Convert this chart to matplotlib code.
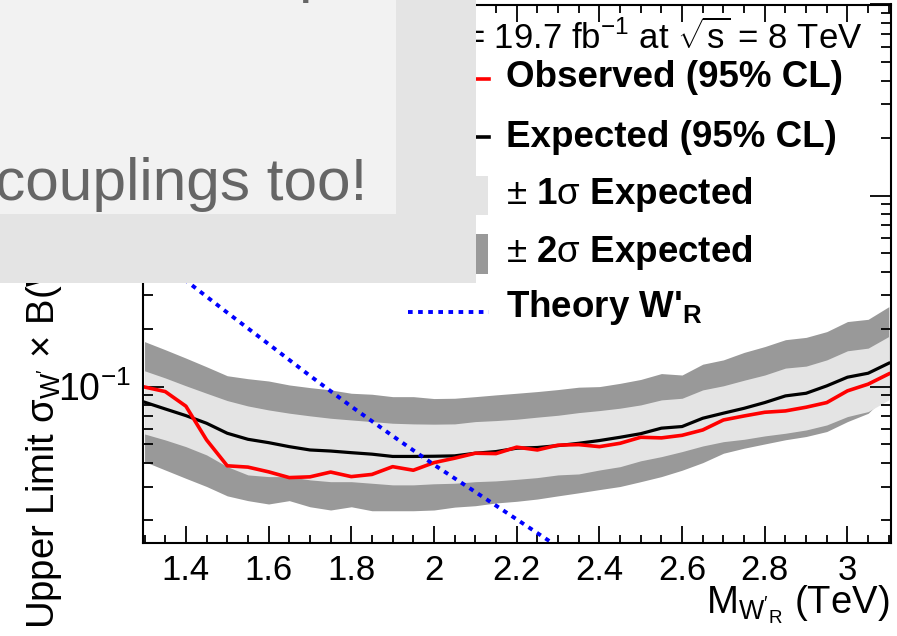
import numpy as np
import matplotlib
matplotlib.use("Agg")
from matplotlib import pyplot as plt
from matplotlib.lines import Line2D
from matplotlib.patches import Rectangle
from matplotlib.ticker import MultipleLocator, LogLocator, NullFormatter, FuncFormatter

plt.rcParams['font.family'] = ['Liberation Sans', 'DejaVu Sans']
plt.rcParams['mathtext.fontset'] = 'custom'
plt.rcParams['mathtext.rm'] = 'Liberation Sans'
plt.rcParams['mathtext.it'] = 'Liberation Sans:italic'
plt.rcParams['mathtext.bf'] = 'Liberation Sans:bold'

# W'_R mass points (TeV)
masses = [1.30, 1.35, 1.40, 1.45, 1.50, 1.55, 1.60, 1.65, 1.70, 1.75,
          1.80, 1.85, 1.90, 1.95, 2.00, 2.05, 2.10, 2.15, 2.20, 2.25,
          2.30, 2.35, 2.40, 2.45, 2.50, 2.55, 2.60, 2.65, 2.70, 2.75,
          2.80, 2.85, 2.90, 2.95, 3.00, 3.05, 3.10]

# 95% CL limits (pb)
observed = [0.0995, 0.0942, 0.0790, 0.0526, 0.0385, 0.0379, 0.0358, 0.0334, 0.0337, 0.0357,
            0.0338, 0.0347, 0.0381, 0.0365, 0.0400, 0.0422, 0.0448, 0.0446, 0.0482, 0.0466,
            0.0494, 0.0497, 0.0485, 0.0505, 0.0543, 0.0539, 0.0556, 0.0593, 0.0669, 0.0702,
            0.0734, 0.0746, 0.0780, 0.0825, 0.0950, 0.1030, 0.1166]
expected = [0.0829, 0.0764, 0.0705, 0.0643, 0.0570, 0.0530, 0.0509, 0.0485, 0.0466, 0.0460,
            0.0451, 0.0443, 0.0431, 0.0431, 0.0432, 0.0434, 0.0448, 0.0457, 0.0476, 0.0480,
            0.0491, 0.0505, 0.0522, 0.0543, 0.0567, 0.0606, 0.0618, 0.0683, 0.0726, 0.0770,
            0.0825, 0.0894, 0.0923, 0.1009, 0.1120, 0.1175, 0.1326]
exp_2s_up = [0.172, 0.156, 0.141, 0.127, 0.114, 0.110, 0.107, 0.102, 0.0988, 0.0961,
             0.0923, 0.0912, 0.0886, 0.0886, 0.0866, 0.0869, 0.0886, 0.0905, 0.0923, 0.0942,
             0.0965, 0.0993, 0.100, 0.104, 0.109, 0.117, 0.115, 0.131, 0.138, 0.151,
             0.162, 0.176, 0.181, 0.194, 0.219, 0.225, 0.262]
exp_1s_up = [0.121, 0.111, 0.101, 0.0923, 0.0845, 0.0792, 0.0755, 0.0726, 0.0703, 0.0683,
             0.0669, 0.0656, 0.0643, 0.0638, 0.0636, 0.0638, 0.0656, 0.0664, 0.0675, 0.0692,
             0.0708, 0.0731, 0.0749, 0.0771, 0.0802, 0.0852, 0.0869, 0.0961, 0.101, 0.108,
             0.115, 0.125, 0.128, 0.138, 0.154, 0.159, 0.183]
exp_1s_dn = [0.0565, 0.0526, 0.0485, 0.0439, 0.0381, 0.0345, 0.0338, 0.0338, 0.0325, 0.0318,
             0.0318, 0.0312, 0.0306, 0.0306, 0.0310, 0.0312, 0.0318, 0.0321, 0.0327, 0.0334,
             0.0345, 0.0349, 0.0366, 0.0381, 0.0409, 0.0430, 0.0457, 0.0489, 0.0515, 0.0530,
             0.0552, 0.0570, 0.0593, 0.0630, 0.0697, 0.0740, 0.0852]
exp_2s_dn = [0.0405, 0.0366, 0.0331, 0.0300, 0.0268, 0.0253, 0.0243, 0.0253, 0.0235, 0.0226,
             0.0235, 0.0224, 0.0224, 0.0224, 0.0226, 0.0234, 0.0238, 0.0246, 0.0251, 0.0258,
             0.0268, 0.0278, 0.0289, 0.0300, 0.0318, 0.0338, 0.0365, 0.0400, 0.0448, 0.0476,
             0.0501, 0.0527, 0.0548, 0.0582, 0.0656, 0.0725, 0.0923]

# theory cross section for W'_R
theory_mass = [1.3, 1.4, 1.5, 1.6, 1.7, 1.8, 1.9, 2.0, 2.1, 2.2, 2.3, 2.4]
theory_xsec = [0.534, 0.359, 0.244, 0.167, 0.114, 0.0787, 0.0552, 0.0390, 0.0281, 0.0202, 0.0145, 0.0105]

W, H = 897, 636
fig = plt.figure(figsize=(W / 100, H / 100), dpi=100)


def fx(px):
    return px / W


def fy(py):
    return 1 - py / H


ax = fig.add_axes([fx(143.3), fy(543.3), fx(891.3) - fx(143.3), fy(4.5) - fy(543.3)])

ax.fill_between(masses, exp_2s_dn, exp_2s_up, color='#999999', lw=0)
ax.fill_between(masses, exp_1s_dn, exp_1s_up, color='#e4e4e4', lw=0)
ax.plot(masses, expected, color='black', lw=2.3)
ax.plot(masses, observed, color='#ff0000', lw=2.6)
ax.plot(theory_mass, theory_xsec, color='#0000ff', lw=2.8, linestyle=(0, (1.2, 1.4)))

ax.set_yscale('log')
ax.set_xlim(1.297, 3.106)
ax.set_ylim(0.01513, 10)

ax.xaxis.set_major_locator(MultipleLocator(0.2))
ax.xaxis.set_minor_locator(MultipleLocator(0.05))
ax.xaxis.set_major_formatter(FuncFormatter(lambda v, p: '%g' % round(v, 2)))
ax.yaxis.set_major_locator(LogLocator(base=10, numticks=10))
ax.yaxis.set_minor_locator(LogLocator(base=10, subs=np.arange(2, 10) * 1.0, numticks=20))
ax.yaxis.set_minor_formatter(NullFormatter())

ax.tick_params(which='both', direction='in', top=True, right=True, width=1.3, color='black')
ax.tick_params(axis='x', which='major', length=12, labelsize=25, pad=8)
ax.tick_params(axis='x', which='minor', length=6)
ax.tick_params(axis='y', which='major', length=15, labelsize=27, pad=9)
ax.tick_params(axis='y', which='minor', length=7.5)
for s in ax.spines.values():
    s.set_linewidth(1.5)

# axis titles
fig.text(fx(889), fy(613), r"M$_{\mathregular{W'_R}}$ (TeV)", fontsize=27.5,
         ha='right', va='baseline')
fig.text(fx(54), fy(629), r"Upper Limit σ$_{\mathregular{W'}}$ × B(W' → tb) (pb)",
         fontsize=27.5, rotation=90, rotation_mode='anchor', ha='left', va='baseline')

# legend
fig.text(fx(862), fy(49.3), r"= 19.7 fb$^{-1}$ at $\sqrt{\mathrm{s}}$ = 8 TeV", fontsize=25,
         ha='right', va='baseline')
fig.add_artist(Line2D([fx(408), fx(489)], [fy(79), fy(79)], color='#ff0000', lw=2.6))
fig.add_artist(Line2D([fx(408), fx(489)], [fy(136.7), fy(136.7)], color='black', lw=2.6))
fig.add_artist(Rectangle((fx(408), fy(215)), fx(488) - fx(408), fy(176) - fy(215),
                         color='#e4e4e4', lw=0))
fig.add_artist(Rectangle((fx(408), fy(274)), fx(488) - fx(408), fy(234) - fy(274),
                         color='#999999', lw=0))
fig.add_artist(Line2D([fx(408), fx(489)], [fy(312), fy(312)], color='#0000ff', lw=2.8,
                      linestyle=(0, (1.2, 1.4))))
labels = ['Observed (95% CL)', 'Expected (95% CL)',
          r"$\pm$ 1$\mathrm{\sigma}$ Expected", r"$\pm$ 2$\mathrm{\sigma}$ Expected",
          r"Theory W'$_\mathbf{R}$"]
baselines = [87.3, 147, 204, 262, 317]
for lab, b in zip(labels, baselines):
    fig.text(fx(506), fy(b), lab, fontsize=26.5, fontweight='bold', ha='left', va='baseline')

# slide box laid over the upper left of the plot
fig.add_artist(Rectangle((0, fy(283)), fx(476), 1 - fy(283), color='#e4e4e4', lw=0, zorder=5))
fig.add_artist(Rectangle((0, fy(214)), fx(396), 1 - fy(214), color='#f2f2f2', lw=0, zorder=5))
fig.text(fx(367), fy(200), 'couplings too!', fontsize=43.5, color='#666666',
         ha='right', va='baseline', zorder=6)
fig.text(fx(298), fy(-9), 'p', fontsize=43.5, color='#666666',
         ha='left', va='baseline', zorder=6)

fig.savefig('out.png', dpi=100)
